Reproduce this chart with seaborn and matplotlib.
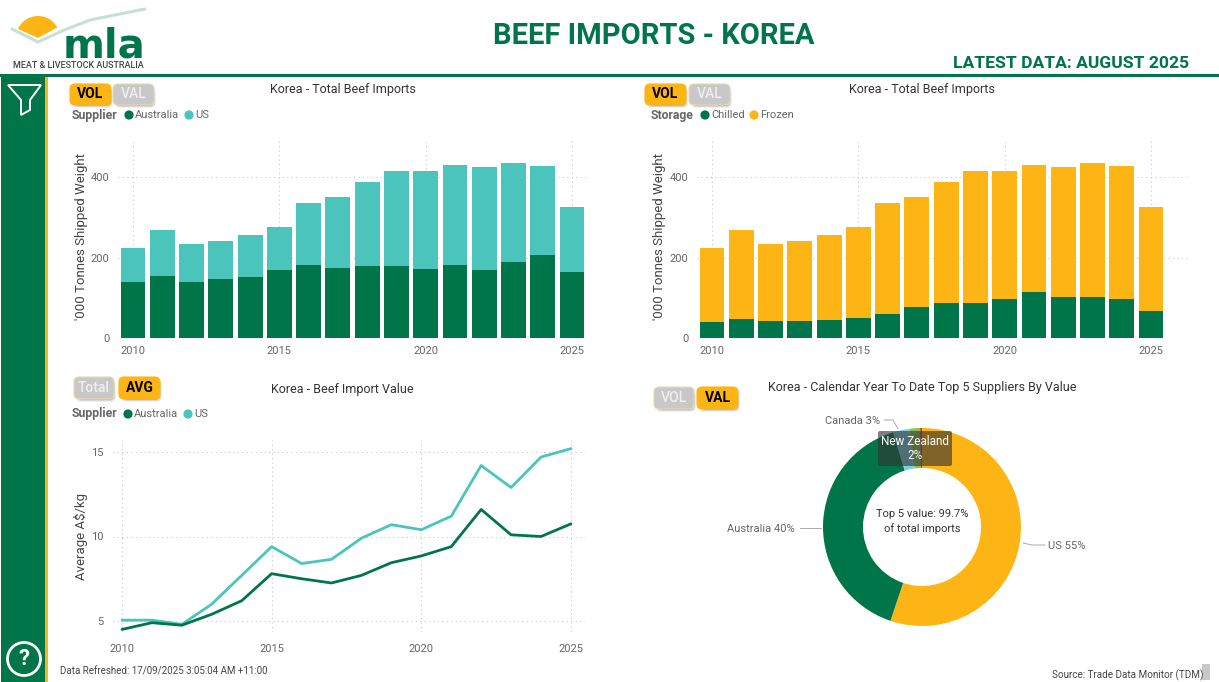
import numpy as np
import pandas as pd
import matplotlib
matplotlib.use("Agg")
import matplotlib.pyplot as plt
from matplotlib.patches import FancyBboxPatch, Rectangle, Polygon, Circle
import seaborn as sns

years = list(range(2010, 2026))
supplier_australia = [140,153,138,147,152,170,181,174,178,179,171,181,169,190,206,165]
total_imports = [224,268,233,240,255,276,336,351,388,414,414,430,425,436,428,326]
storage_chilled = [40,46,41,41,45,50,60,77,88,87,97,115,103,101,96,67]
price_australia = [4.5,4.9,4.75,5.4,6.2,7.8,7.5,7.25,7.7,8.45,8.85,9.4,11.6,10.1,10.0,10.75]
price_us = [5.05,5.05,4.8,6.0,7.7,9.4,8.4,8.65,9.9,10.7,10.4,11.2,14.2,12.9,14.7,15.2]
donut_labels = ["US", "Australia", "Canada", "New Zealand", "Other"]
donut_values = [55, 40, 2.7, 1.7, 0.3]

GREEN = "#00754A"
TEAL = "#4BC5BC"
GOLD = "#FDB515"
DGREY = "#444444"
GREY = "#666666"
W, H = 1219, 682

sns.set_theme(style="white")
plt.rcParams["font.family"] = ["Roboto", "DejaVu Sans"]
fig = plt.figure(figsize=(W / 100, H / 100), dpi=100, facecolor="white")


def axes_px(x0, y0, x1, y1):
    return fig.add_axes([x0 / W, 1 - y1 / H, (x1 - x0) / W, (y1 - y0) / H], facecolor="none")


def style(ax, yticks, xlim, ylim):
    ax.set_xlim(*xlim); ax.set_ylim(*ylim)
    ax.set_xticks([2010, 2015, 2020, 2025])
    ax.set_xticklabels(["2010", "2015", "2020", "2025"])
    ax.set_yticks(yticks)
    ax.set_yticklabels([str(v) for v in yticks])
    ax.tick_params(axis="both", length=0, labelsize=8, labelcolor=GREY, pad=6)
    ax.grid(True, color="#C8C8C8", linestyle=(0, (1, 3)), linewidth=0.8)
    ax.set_axisbelow(True)
    sns.despine(ax=ax, left=True, bottom=True)
    ax.set_xlabel("")
    ax.set_ylabel("")
    return ax


def stacked(ax, low, total, low_color, top_color):
    df = pd.DataFrame({"year": years, "low": low, "total": total})
    sns.barplot(data=df, x="year", y="total", color=top_color, native_scale=True,
                width=0.85, saturation=1, linewidth=0, ax=ax, zorder=2)
    sns.barplot(data=df, x="year", y="low", color=low_color, native_scale=True,
                width=0.85, saturation=1, linewidth=0, ax=ax, zorder=3)


# ------- Bar charts (px per year 29.27, y 0 at 338, 0.4025 px per unit)
ax1 = axes_px(118, 140, 586, 338)
stacked(ax1, supplier_australia, total_imports, GREEN, TEAL)
style(ax1, [0, 200, 400], (2010 - 15 / 29.27, 2010 + (586 - 133) / 29.27), (0, 198 / 0.4025))

ax2 = axes_px(697, 140, 1190, 338)
stacked(ax2, storage_chilled, total_imports, GREEN, GOLD)
style(ax2, [0, 200, 400], (2010 - 15 / 29.27, 2010 + (1190 - 712) / 29.27), (0, 198 / 0.4025))

# ------- Line chart (15 at 452, 5 at 621 -> 16.9 px/unit)
ax3 = axes_px(113, 440, 585, 632)
sns.lineplot(x=years, y=price_us, color=TEAL, linewidth=2.0, ax=ax3, zorder=3)
sns.lineplot(x=years, y=price_australia, color=GREEN, linewidth=2.0, ax=ax3, zorder=3)
style(ax3, [5, 10, 15], (2010 - 9 / 29.93, 2010 + (585 - 122) / 29.93), (5 - 11 / 16.9, 15 + 12 / 16.9))
ax3.tick_params(axis="x", pad=9)
ax3.tick_params(axis="y", pad=7)

# ------- Donut
cx, cy, R, r = 922, 527, 99, 59
ax4 = axes_px(cx - R - 2, cy - R - 2, cx + R + 2, cy + R + 2)
ax4.pie(donut_values, colors=[GOLD, GREEN, "#7FCFE0", "#8CC152", "#C0392B"], startangle=90,
        counterclock=False, radius=1, wedgeprops=dict(width=(R - r) / R, linewidth=0))
ax4.set_xlim(-(R + 2) / R, (R + 2) / R); ax4.set_ylim(-(R + 2) / R, (R + 2) / R)
ax4.set_aspect("equal")

# ------- Page furniture on a pixel-based overlay
ov = fig.add_axes([0, 0, 1, 1], facecolor="none")
ov.set_xlim(0, W); ov.set_ylim(H, 0); ov.axis("off")

ov.add_patch(Rectangle((0, 74), W, 3, color=GREEN, lw=0))
ov.add_patch(Rectangle((1, 77), 44, H - 77, color=GREEN, lw=0))
ov.add_patch(Rectangle((45, 77), 3, H - 77, color=GOLD, lw=0))

# Filter and help icons
ov.add_patch(Polygon([(8, 85), (41, 85), (30, 100), (30, 110), (21, 115), (21, 100)],
                     closed=True, fill=False, ec="white", lw=1.4))
ov.add_patch(Circle((24, 659), 16.5, fill=False, ec="white", lw=2))
ov.text(24, 659, "?", color="white", fontsize=16, fontweight="bold", ha="center", va="center")

# Logo: a sun dome cut by the V-shaped swoosh
sun = Circle((38, 38), 22, color=GOLD, lw=0)
ov.add_patch(sun)
sun_clip = Polygon([(12, 10), (64, 10), (60, 26), (38, 38), (16, 28)], closed=True,
                   transform=ov.transData)
sun.set_clip_path(sun_clip)
ov.plot([12, 38, 62, 90, 145], [29, 42, 31, 20, 9], color="#C5E0D5", lw=2.2, solid_capstyle="round")
ov.text(104, 57, "mla", color=GREEN, fontsize=29, fontweight="bold", ha="center", va="baseline",
        family="DejaVu Sans")
ov.text(78, 66, "MEAT & LIVESTOCK AUSTRALIA", color=DGREY, fontsize=6.5, fontweight="medium",
        ha="center", va="center")

# Headings
ov.text(653.5, 35.5, "BEEF IMPORTS - KOREA", color=GREEN, fontsize=21, fontweight="bold", ha="center", va="center")
ov.text(1189, 63, "LATEST DATA: AUGUST 2025", color=GREEN, fontsize=12.6, fontweight="bold", ha="right", va="center")
title_kw = dict(color="#333333", fontsize=9, fontweight="normal", ha="center", va="center")
ov.text(343, 89.5, "Korea - Total Beef Imports", **title_kw)
ov.text(922, 89.5, "Korea - Total Beef Imports", **title_kw)
ov.text(342, 389, "Korea - Beef Import Value", **title_kw)
ov.text(922, 388, "Korea - Calendar Year To Date Top 5 Suppliers By Value", **title_kw)

# Axis titles
ylab_kw = dict(color=DGREY, fontsize=9.5, rotation=90, ha="center", va="center")
ov.text(81, 237, "'000 Tonnes Shipped Weight", **ylab_kw)
ov.text(659, 237, "'000 Tonnes Shipped Weight", **ylab_kw)
ov.text(81, 537, "Average A$/kg", **ylab_kw)


def button(x0, x1, y0, y1, label, active):
    for grow, a in ((3, 0.06), (2, 0.10), (1, 0.16)):
        ov.add_patch(FancyBboxPatch((x0 + 3 + 2, y0 + 3 + 3), x1 - x0 - 6, y1 - y0 - 6,
                                    boxstyle=f"round,pad={grow},rounding_size=5",
                                    fc="#000000", ec="none", alpha=a))
    ov.add_patch(FancyBboxPatch((x0 + 3, y0 + 3), x1 - x0 - 6, y1 - y0 - 6,
                                boxstyle="round,pad=3,rounding_size=5",
                                fc=GOLD if active else "#C8C8C8", ec=GOLD if active else "#EBD9AE", lw=0.8))
    ov.text((x0 + x1) / 2, (y0 + y1) / 2, label, color="black" if active else "#EFEFEF",
            fontsize=10, fontweight="bold" if active else "medium", ha="center", va="center")


button(70, 111, 84, 105, "VOL", True)
button(113, 154, 84, 105, "VAL", False)
button(645, 686, 84, 105, "VOL", True)
button(689, 730, 84, 105, "VAL", False)
button(74, 114, 377, 399, "Total", False)
button(119, 160, 377, 399, "AVG", True)
button(654, 694, 387, 409, "VOL", False)
button(697, 738, 387, 409, "VAL", True)


def legend(x, y, head, items):
    ov.text(x, y, head, color=GREY, fontsize=8.8, fontweight="bold", ha="left", va="center")
    for dot_x, name, col in items:
        ov.add_patch(Circle((dot_x, y), 4.6, color=col, lw=0))
        ov.text(dot_x + 6, y, name, color=GREY, fontsize=8, ha="left", va="center")


legend(72, 115, "Supplier", [(129, "Australia", GREEN), (189, "US", TEAL)])
legend(651, 115, "Storage", [(705, "Chilled", GREEN), (754, "Frozen", GOLD)])
legend(72, 414, "Supplier", [(128, "Australia", GREEN), (188, "US", TEAL)])

# Donut annotations
lbl = dict(color=GREY, fontsize=8, va="center")
ov.text(795, 529, "Australia 40%", ha="right", **lbl)
ov.plot([800, 821], [528, 528], color="#AAAAAA", lw=0.7)
ov.text(1048, 546, "US 55%", ha="left", **lbl)
ov.plot([1023, 1032, 1045], [543, 545, 545], color="#AAAAAA", lw=0.7)
ov.text(880, 420.5, "Canada 3%", ha="right", **lbl)
ov.plot([884, 893, 898], [420, 420, 429], color="#AAAAAA", lw=0.7)
ov.add_patch(FancyBboxPatch((878, 431), 74, 35, boxstyle="round,pad=0,rounding_size=2",
                            fc="#333333", ec="none", alpha=0.62))
ov.text(915, 448.5, "New Zealand\n2%", color="white", fontsize=8.5, ha="center", va="center", linespacing=1.15)
ov.text(922, 521.5, "Top 5 value: 99.7%\nof total imports", color="#333333", fontsize=8, fontweight="normal",
        ha="center", va="center", linespacing=1.35)

# Footers
ov.text(60, 671.5, "Data Refreshed: 17/09/2025 3:05:04 AM +11:00", color=DGREY, fontsize=7.05, ha="left", va="center")
ov.text(1203, 675, "Source: Trade Data Monitor (TDM)", color=DGREY, fontsize=7.15, ha="right", va="center")
ov.add_patch(Rectangle((1202, 664), 8, 16, color="#C8C8C8", lw=0))

fig.savefig("out.png", dpi=100, facecolor="white")
